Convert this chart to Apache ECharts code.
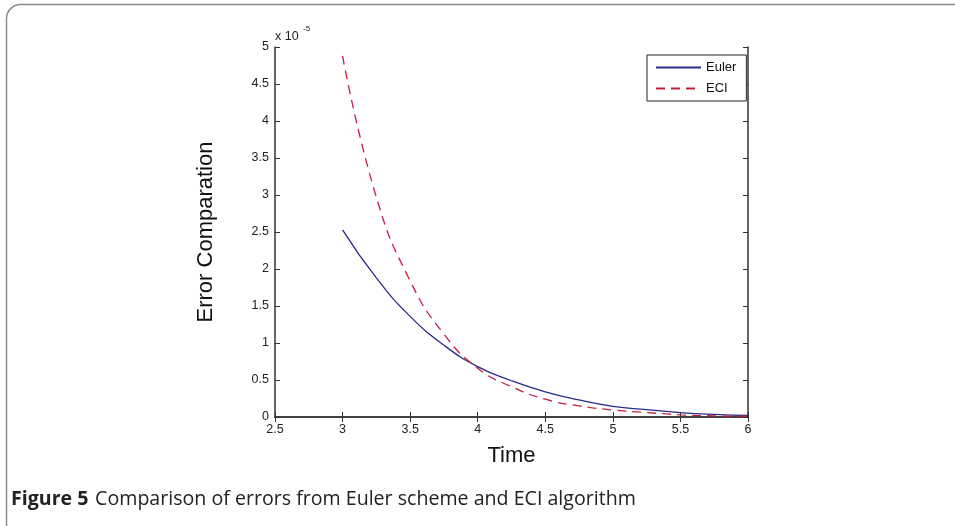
<!DOCTYPE html>
<html>
<head>
<meta charset="utf-8">
<script src="https://cdn.jsdelivr.net/npm/echarts@6/dist/echarts.min.js"></script>
<style>
    html, body { margin: 0; padding: 0; background: #fff; }
    #chart { width: 955px; height: 526px; }
</style>
</head>
<body>
<div id="chart"></div>
<script type="text/javascript">
    // 数据 (y 单位: x 10^-5)
    var timeX = [3, 3.25, 3.5, 3.75, 4, 4.25, 4.5, 4.75, 5, 5.25, 5.5, 5.75, 6];
    var eulerY = [2.53, 1.88, 1.36, 0.97, 0.68, 0.49, 0.34, 0.23, 0.145, 0.1, 0.06, 0.035, 0.02];
    var eciY = [4.88, 2.97, 1.84, 1.12, 0.66, 0.41, 0.24, 0.15, 0.095, 0.06, 0.03, 0.015, 0.01];
    var xTicks = { min: 2.5, max: 6, step: 0.5 };
    var yTicks = { min: 0, max: 5, step: 0.5 };

    function pairs(ys) {
        var out = [];
        for (var i = 0; i < timeX.length; i++) {
            out.push([timeX[i], ys[i]]);
        }
        return out;
    }

    var axisColor = '#333';
    var labelStyle = { color: '#222', fontSize: 12.5, fontFamily: 'Liberation Sans' };

    var myChart = echarts.init(document.getElementById('chart'));
    var option = {
        animation: false,
        backgroundColor: '#fff',
        grid: { left: 275, right: 207, top: 47, bottom: 109 },
        legend: {
            left: 647, top: 55,
            orient: 'vertical',
            itemWidth: 45, itemHeight: 10, itemGap: 8,
            padding: [6, 10, 6, 8],
            borderColor: '#222', borderWidth: 1,
            backgroundColor: '#fff',
            itemStyle: { opacity: 0 },
            textStyle: { color: '#111', fontSize: 13, fontFamily: 'Liberation Sans' },
            data: ['Euler', 'ECI']
        },
        xAxis: [{
            type: 'value', min: xTicks.min, max: xTicks.max, interval: xTicks.step,
            name: 'Time', nameLocation: 'middle', nameGap: 28,
            nameTextStyle: { color: '#111', fontSize: 22, fontFamily: 'Liberation Sans' },
            axisLine: { show: true, lineStyle: { color: axisColor, width: 1.5 } },
            axisTick: { show: true, inside: true, length: 5, lineStyle: { color: axisColor } },
            axisLabel: Object.assign({ margin: 6 }, labelStyle),
            splitLine: { show: false }
        }, {
            type: 'value', position: 'top', min: xTicks.min, max: xTicks.max, interval: xTicks.step,
            axisLine: { show: true, lineStyle: { color: axisColor, width: 1.5 } },
            axisTick: { show: true, inside: true, length: 5, lineStyle: { color: axisColor } },
            axisLabel: { show: false },
            splitLine: { show: false }
        }],
        yAxis: [{
            type: 'value', min: yTicks.min, max: yTicks.max, interval: yTicks.step,
            name: 'Error Comparation', nameLocation: 'middle', nameGap: 58,
            nameTextStyle: { color: '#111', fontSize: 22, fontFamily: 'Liberation Sans' },
            axisLine: { show: true, lineStyle: { color: axisColor, width: 1.5 } },
            axisTick: { show: true, inside: true, length: 5, lineStyle: { color: axisColor } },
            axisLabel: Object.assign({ margin: 6 }, labelStyle),
            splitLine: { show: false }
        }, {
            type: 'value', position: 'right', min: yTicks.min, max: yTicks.max, interval: yTicks.step,
            axisLine: { show: true, lineStyle: { color: axisColor, width: 1.5 } },
            axisTick: { show: true, inside: true, length: 5, lineStyle: { color: axisColor } },
            axisLabel: { show: false },
            splitLine: { show: false }
        }],
        graphic: [
            {
                type: 'rect', silent: true, z: -1,
                shape: { x: 6.5, y: 4.5, width: 1000, height: 600, r: 14 },
                style: { fill: 'none', stroke: '#8a8a8a', lineWidth: 1.5 }
            },
            {
                type: 'text', left: 275, top: 30,
                style: { text: 'x 10', fill: '#222', fontSize: 12.5, fontFamily: 'Liberation Sans' }
            },
            {
                type: 'text', left: 303, top: 25,
                style: { text: '-5', fill: '#222', fontSize: 8, fontFamily: 'Liberation Sans' }
            },
            {
                type: 'text', left: 11, top: 489,
                style: {
                    text: '{b|Figure 5}  {n|Comparison of errors from Euler scheme and ECI algorithm}',
                    rich: {
                        b: { fontWeight: 'bold', fontSize: 19.6, fill: '#222', fontFamily: 'Open Sans' },
                        n: { fontSize: 19.6, fill: '#222', fontFamily: 'Open Sans' }
                    }
                }
            }
        ],
        series: [{
            name: 'Euler', type: 'line', smooth: true, symbol: 'none',
            lineStyle: { color: '#2a2a8c', width: 1.3 },
            itemStyle: { color: '#2a2a8c' },
            data: pairs(eulerY)
        }, {
            name: 'ECI', type: 'line', smooth: true, symbol: 'none',
            lineStyle: { color: '#c0203c', width: 1.3, type: [9, 6] },
            itemStyle: { color: '#c0203c' },
            data: pairs(eciY)
        }]
    };
    myChart.setOption(option);
</script>
</body>
</html>
